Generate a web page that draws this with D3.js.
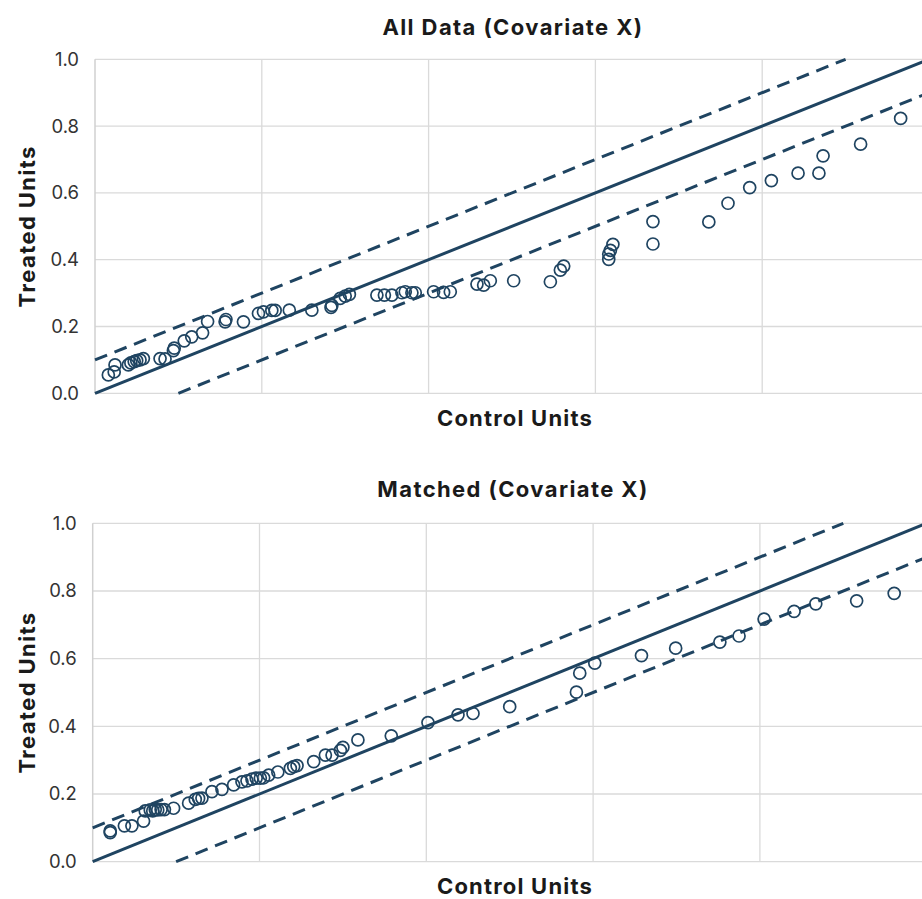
<!DOCTYPE html>
<html>
<head>
<meta charset="utf-8">
<script src="https://cdn.jsdelivr.net/npm/d3@7"></script>
<style>
  body { margin: 0; background: #fff; }
  svg { display: block; }
</style>
</head>
<body>
<div id="chart"></div>
<script>
// Quantile points: [control, treated]
var allDataPoints = [
    [0.016, 0.055], [0.023, 0.064], [0.024, 0.085], [0.040, 0.085], [0.043, 0.091],
    [0.047, 0.095], [0.050, 0.098], [0.054, 0.100], [0.058, 0.104], [0.078, 0.104],
    [0.084, 0.103], [0.094, 0.128], [0.095, 0.135], [0.107, 0.157], [0.116, 0.169],
    [0.129, 0.181], [0.135, 0.215], [0.156, 0.214], [0.157, 0.221], [0.178, 0.214],
    [0.196, 0.239], [0.202, 0.244], [0.212, 0.248], [0.216, 0.248], [0.233, 0.249],
    [0.260, 0.249], [0.283, 0.257], [0.284, 0.263], [0.294, 0.284], [0.300, 0.291],
    [0.305, 0.296], [0.338, 0.294], [0.347, 0.294], [0.356, 0.294], [0.368, 0.301],
    [0.372, 0.304], [0.380, 0.301], [0.384, 0.301], [0.406, 0.304], [0.418, 0.302],
    [0.426, 0.304], [0.458, 0.327], [0.466, 0.324], [0.474, 0.337], [0.502, 0.337],
    [0.546, 0.334], [0.558, 0.369], [0.562, 0.381], [0.616, 0.401], [0.616, 0.417],
    [0.618, 0.428], [0.621, 0.446], [0.669, 0.447], [0.669, 0.514], [0.736, 0.513],
    [0.759, 0.569], [0.785, 0.616], [0.811, 0.637], [0.843, 0.659], [0.868, 0.659],
    [0.873, 0.711], [0.918, 0.746], [0.966, 0.823]
];

var matchedPoints = [
    [0.021, 0.086], [0.021, 0.091], [0.038, 0.106], [0.047, 0.106], [0.061, 0.120],
    [0.063, 0.150], [0.069, 0.153], [0.072, 0.150], [0.075, 0.154], [0.078, 0.153],
    [0.082, 0.154], [0.086, 0.154], [0.097, 0.158], [0.115, 0.173], [0.123, 0.184],
    [0.127, 0.187], [0.131, 0.188], [0.143, 0.207], [0.155, 0.214], [0.169, 0.227],
    [0.179, 0.236], [0.185, 0.239], [0.191, 0.244], [0.196, 0.247], [0.201, 0.247],
    [0.205, 0.248], [0.211, 0.256], [0.222, 0.265], [0.237, 0.276], [0.241, 0.281],
    [0.245, 0.284], [0.265, 0.296], [0.279, 0.315], [0.287, 0.315], [0.297, 0.329],
    [0.300, 0.338], [0.318, 0.360], [0.358, 0.372], [0.402, 0.411], [0.438, 0.434],
    [0.456, 0.438], [0.500, 0.458], [0.580, 0.501], [0.584, 0.557], [0.602, 0.587],
    [0.658, 0.609], [0.699, 0.631], [0.752, 0.649], [0.775, 0.667], [0.805, 0.717],
    [0.841, 0.740], [0.867, 0.762], [0.916, 0.771], [0.961, 0.793]
];

// reference lines: equality and +/- 0.1 band
var diagonalLine = [[0, 0], [1, 1]];
var upperBand = [[0, 0.1], [0.9, 1]];
var lowerBand = [[0.1, 0], [1, 0.9]];

var yTicks = [0, 0.2, 0.4, 0.6, 0.8, 1.0];
var xGrid = [0.2, 0.4, 0.6, 0.8];

var panels = [
    {title: "All Data (Covariate X)", points: allDataPoints,
     left: 95, right: 929, top: 59.3, bottom: 393.3, titleY: 35, xLabelY: 426},
    {title: "Matched (Covariate X)", points: matchedPoints,
     left: 92.7, right: 926.7, top: 523.3, bottom: 861.7, titleY: 497, xLabelY: 894}
];

var navy = "#1f4461";
var gridColor = "#dadada";
var fontFamily = "Inter, 'Open Sans', sans-serif";

var svg = d3.select("#chart").append("svg")
    .attr("width", 922)
    .attr("height", 899);

panels.forEach(function(p) {
    var x = d3.scaleLinear().domain([0, 1]).range([p.left, p.right]);
    var y = d3.scaleLinear().domain([0, 1]).range([p.bottom, p.top]);

    var g = svg.append("g");

    // grid
    g.append("g").selectAll("line")
        .data(yTicks)
        .enter().append("line")
            .attr("x1", p.left).attr("x2", p.right)
            .attr("y1", function(d) { return y(d); })
            .attr("y2", function(d) { return y(d); })
            .attr("stroke", gridColor)
            .attr("stroke-width", 1.3);

    g.append("g").selectAll("line")
        .data(xGrid)
        .enter().append("line")
            .attr("x1", function(d) { return x(d); })
            .attr("x2", function(d) { return x(d); })
            .attr("y1", p.top).attr("y2", p.bottom)
            .attr("stroke", gridColor)
            .attr("stroke-width", 1.3);

    g.append("line")
        .attr("x1", p.left).attr("x2", p.left)
        .attr("y1", p.top).attr("y2", p.bottom)
        .attr("stroke", "#d0d0d0")
        .attr("stroke-width", 1.5);

    // y axis labels
    var yAxis = d3.axisLeft(y)
        .tickValues(yTicks)
        .tickFormat(d3.format(".1f"))
        .tickSize(0)
        .tickPadding(16);

    var ax = g.append("g")
        .attr("transform", "translate(" + p.left + ",0)")
        .call(yAxis);
    ax.select(".domain").remove();
    ax.selectAll("text")
        .attr("font-family", fontFamily)
        .attr("font-size", 18.5)
        .attr("fill", "#333");

    // reference lines
    var line = d3.line()
        .x(function(d) { return x(d[0]); })
        .y(function(d) { return y(d[1]); });

    g.append("path")
        .attr("d", line(diagonalLine))
        .attr("fill", "none")
        .attr("stroke", navy)
        .attr("stroke-width", 3);

    [upperBand, lowerBand].forEach(function(band) {
        g.append("path")
            .attr("d", line(band))
            .attr("fill", "none")
            .attr("stroke", navy)
            .attr("stroke-width", 3)
            .attr("stroke-dasharray", "13,8");
    });

    // points
    g.append("g").selectAll("circle")
        .data(p.points)
        .enter().append("circle")
            .attr("cx", function(d) { return x(d[0]); })
            .attr("cy", function(d) { return y(d[1]); })
            .attr("r", 6)
            .attr("fill", "none")
            .attr("stroke", navy)
            .attr("stroke-width", 1.7);

    // titles
    g.append("text")
        .attr("x", 513)
        .attr("y", p.titleY)
        .attr("text-anchor", "middle")
        .attr("font-family", fontFamily)
        .attr("font-size", 22)
        .attr("font-weight", 700)
        .attr("letter-spacing", 1.4)
        .attr("fill", "#1a1a1a")
        .text(p.title);

    g.append("text")
        .attr("x", 515)
        .attr("y", p.xLabelY)
        .attr("text-anchor", "middle")
        .attr("font-family", fontFamily)
        .attr("font-size", 22)
        .attr("font-weight", 700)
        .attr("letter-spacing", 1.2)
        .attr("fill", "#1a1a1a")
        .text("Control Units");

    g.append("text")
        .attr("transform", "translate(35," + ((p.top + p.bottom) / 2) + ") rotate(-90)")
        .attr("text-anchor", "middle")
        .attr("font-family", fontFamily)
        .attr("font-size", 22)
        .attr("font-weight", 700)
        .attr("letter-spacing", 1.4)
        .attr("fill", "#1a1a1a")
        .text("Treated Units");
});
</script>
</body>
</html>
